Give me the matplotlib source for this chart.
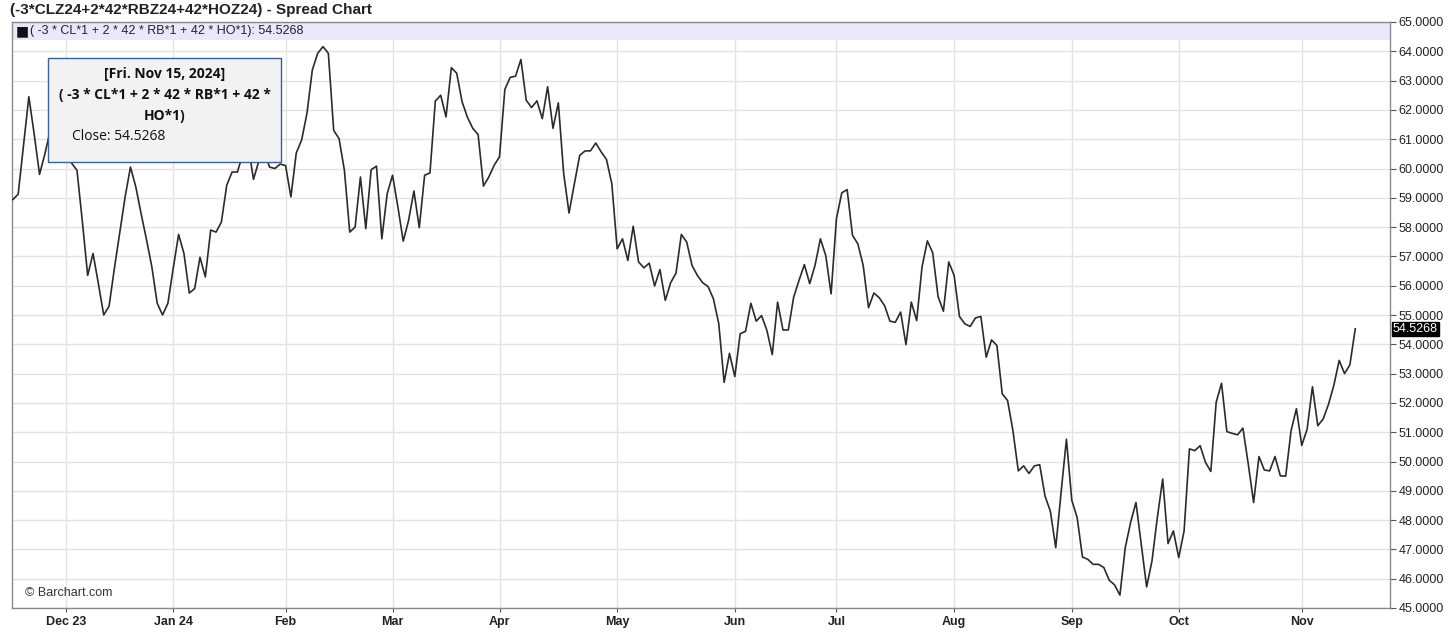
import numpy as np
import pandas as pd
import matplotlib
matplotlib.use("Agg")
import matplotlib.pyplot as plt
from matplotlib.patches import Rectangle

# trading days (CME energy calendar) from Nov 16 2023 to Nov 15 2024
holidays = ["2023-11-23", "2023-12-25", "2024-01-01", "2024-01-15", "2024-02-19",
            "2024-03-29", "2024-05-27", "2024-06-19", "2024-07-04", "2024-09-02"]
dates = pd.bdate_range("2023-11-16", "2024-11-15", freq="C", holidays=holidays)

# daily close of the spread
close = [
    58.94, 59.12, 60.78, 62.45, 61.17, 59.80, 60.50, 61.30, 61.80, 61.30,
    60.60, 60.18, 59.94, 58.20, 56.35, 57.10, 56.07, 55.00, 55.30, 56.60,
    57.82, 59.03, 60.05, 59.37, 58.45, 57.57, 56.64, 55.40, 55.00, 55.40,
    56.60, 57.75, 57.10, 55.75, 55.90, 56.97, 56.30, 57.90, 57.83, 58.17,
    59.43, 59.88, 59.88, 60.50, 60.80, 59.63, 60.25, 60.60, 60.05, 60.00,
    60.15, 60.10, 59.03, 60.53, 60.97, 61.88, 63.36, 63.93, 64.16, 63.93,
    61.30, 61.02, 59.94, 57.83, 58.00, 59.71, 57.95, 59.96, 60.08, 57.60,
    59.14, 59.77, 58.69, 57.52, 58.23, 59.23, 57.98, 59.77, 59.85, 62.30,
    62.50, 61.76, 63.44, 63.25, 62.28, 61.75, 61.37, 61.16, 59.40, 59.71,
    60.11, 60.40, 62.70, 63.11, 63.15, 63.72, 62.33, 62.08, 62.31, 61.70,
    62.79, 61.37, 62.24, 59.83, 58.48, 59.48, 60.45, 60.60, 60.60, 60.87,
    60.57, 60.31, 59.48, 57.26, 57.60, 56.86, 58.03, 56.81, 56.61, 56.77,
    55.99, 56.55, 55.50, 56.10, 56.43, 57.75, 57.49, 56.69, 56.35, 56.10,
    55.97, 55.55, 54.70, 52.70, 53.69, 52.90, 54.36, 54.44, 55.40, 54.79,
    54.98, 54.47, 53.65, 55.44, 54.49, 54.49, 55.61, 56.18, 56.72, 56.07,
    56.70, 57.60, 57.03, 55.72, 58.29, 59.17, 59.28, 57.72, 57.43, 56.69,
    55.25, 55.75, 55.59, 55.32, 54.79, 54.75, 55.10, 53.99, 55.44, 54.81,
    56.64, 57.53, 57.12, 55.63, 55.13, 56.81, 56.35, 54.95, 54.70, 54.61,
    54.90, 54.95, 53.56, 54.15, 53.96, 52.31, 52.08, 51.05, 49.68, 49.85,
    49.59, 49.85, 49.89, 48.82, 48.30, 47.06, 48.94, 50.76, 48.68, 48.09,
    46.74, 46.66, 46.49, 46.49, 46.38, 45.95, 45.79, 45.44, 47.06, 47.92,
    48.60, 47.15, 45.72, 46.61, 48.09, 49.40, 47.20, 47.63, 46.72, 47.63,
    50.43, 50.37, 50.54, 49.97, 49.66, 52.02, 52.67, 51.02, 50.96, 50.91,
    51.14, 49.91, 48.60, 50.17, 49.71, 49.68, 50.17, 49.51, 49.50, 51.05,
    51.80, 50.55, 51.10, 52.55, 51.22, 51.45, 51.95, 52.60, 53.45, 53.00,
    53.30, 54.5268,
]

title = "(-3*CLZ24+2*42*RBZ24+42*HOZ24) - Spread Chart"
legend_text = "( -3 * CL*1 + 2 * 42 * RB*1 + 42 * HO*1): 54.5268"
last_label = "54.5268"
y_ticks = list(range(45, 66))

W, H = 1456, 640
fig = plt.figure(figsize=(W / 100, H / 100), dpi=100)
plt.rcParams['font.family'] = ['Liberation Sans', 'DejaVu Sans']

L, R, T, B = 12, 1390, 22, 608
ax = fig.add_axes([L / W, 1 - B / H, (R - L) / W, (B - T) / H])

x = np.arange(len(dates))
ax.plot(x, close, color='#2b2b2b', linewidth=1.2, zorder=3)

ax.set_xlim(-0.15, 257.5)
ax.set_ylim(45, 65)

# month ticks at first trading day of each month
s = pd.Series(x, index=dates)
firsts = s.groupby([dates.year, dates.month]).first()
tick_pos, tick_lab = [], []
for (yr, mo), pos in firsts.items():
    if yr == 2023 and mo == 11:
        continue
    name = pd.Timestamp(yr, mo, 1).strftime("%b")
    if mo in (12, 1):
        name += " " + str(yr)[2:]
    tick_pos.append(pos)
    tick_lab.append(name)

ax.set_xticks(tick_pos)
ax.set_xticklabels(tick_lab, fontsize=9, fontweight='bold', color='#222222')
ax.set_yticks(y_ticks)
ax.set_yticklabels([f"{v:.4f}" for v in y_ticks], fontsize=9, color='#222222')
ax.yaxis.tick_right()
ax.tick_params(axis='y', direction='out', length=4, color='#555555', pad=2)
ax.tick_params(axis='x', direction='out', length=3, color='#555555', pad=3)

ax.grid(True, color='#e3e3e3', linewidth=1.0, zorder=0)
for sp in ax.spines.values():
    sp.set_color('#8a8a8a')
    sp.set_linewidth(1.0)

# legend band across the top
band = Rectangle((0, 1 - 18 / (B - T)), 1, 18 / (B - T), transform=ax.transAxes,
                 facecolor='#e8e8fb', edgecolor='none', zorder=2)
ax.add_patch(band)
ax.text(4 / (R - L), 1 - 9 / (B - T), "\u25a0", transform=ax.transAxes,
        fontsize=10, va='center', ha='left', color='#111111', zorder=4,
        family=['DejaVu Sans'])
ax.text(18 / (R - L), 1 - 9 / (B - T), legend_text, transform=ax.transAxes,
        fontsize=9, va='center', ha='left', color='#222222', zorder=4)

# last value marker on the price axis
ax.text(1.0 + 3 / (R - L), close[-1], last_label, transform=ax.get_yaxis_transform(),
        fontsize=9, color='white', va='center', ha='left', zorder=6,
        bbox=dict(boxstyle='square,pad=0.1', facecolor='black', edgecolor='black'),
        clip_on=False)

# title
fig.text(10 / W, 1 - 10 / H, title, fontsize=11, fontweight='bold', va='center',
         ha='left', color='#222222')

# watermark
ax.text(13 / (R - L), 1 - (593 - T) / (B - T), "\u00a9 Barchart.com", transform=ax.transAxes,
        fontsize=9, va='center', ha='left', color='#333333', zorder=4)

# tooltip box
bx0, by0, bx1, by1 = 48, 58, 281, 162
tip = Rectangle((bx0 / W, 1 - by1 / H), (bx1 - bx0) / W, (by1 - by0) / H,
                transform=fig.transFigure, facecolor='#f2f2f2', edgecolor='#3a5f9a',
                linewidth=1.0, zorder=10)
fig.patches.append(tip)
cx = (bx0 + bx1) / 2 / W
tip_font = ['Open Sans', 'DejaVu Sans']
fig.text(cx, 1 - 74 / H, "[Fri. Nov 15, 2024]", fontsize=10, fontweight='bold',
         ha='center', va='center', color='#111111', family=tip_font, zorder=11)
fig.text(cx, 1 - 95 / H, "( -3 * CL*1 + 2 * 42 * RB*1 + 42 *", fontsize=10,
         fontweight='bold', ha='center', va='center', color='#111111', family=tip_font, zorder=11)
fig.text(cx, 1 - 116 / H, "HO*1)", fontsize=10, fontweight='bold', ha='center',
         va='center', color='#111111', family=tip_font, zorder=11)
fig.text(72 / W, 1 - 137 / H, "Close: 54.5268", fontsize=10, ha='left', va='center',
         color='#111111', family=tip_font, zorder=11)

fig.savefig("out.png", dpi=100, facecolor='white')
